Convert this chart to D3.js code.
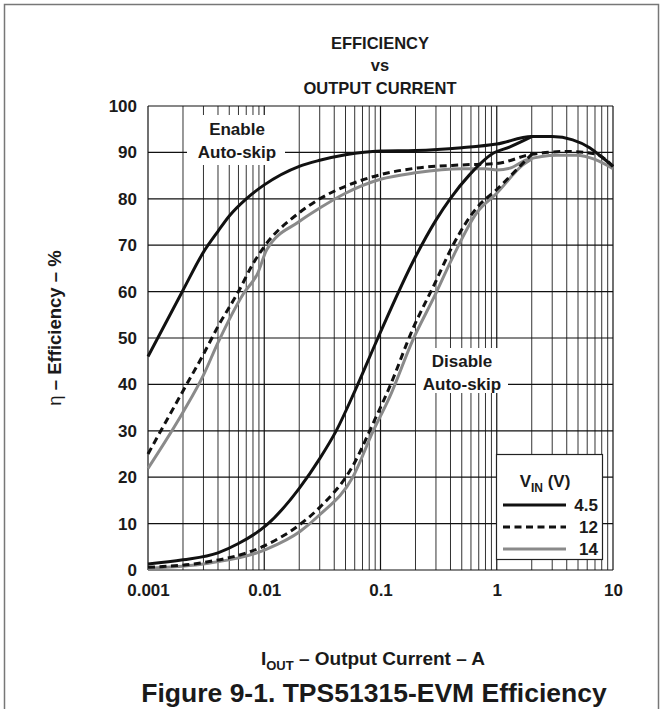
<!DOCTYPE html>
<html>
<head>
<meta charset="utf-8">
<script src="https://cdn.jsdelivr.net/npm/d3@7"></script>
<style>
  html, body { margin: 0; padding: 0; background: #fff; }
  svg { display: block; }
  text { font-family: "Liberation Sans", Arial, Helvetica, sans-serif; font-weight: bold; fill: #1a1a1a; }
</style>
</head>
<body>
<svg id="chart" width="663" height="709"></svg>
<script>
// ---- Data (I_OUT in A, efficiency in %) ----
const currentTicks = [0.001, 0.01, 0.1, 1, 10];
const currentTickLabels = ["0.001", "0.01", "0.1", "1", "10"];
const effTicks = [0, 10, 20, 30, 40, 50, 60, 70, 80, 90, 100];
const seriesNames = ["4.5", "12", "14"];

const enable45 = [[0.001,46],[0.002,60.3],[0.003,68.5],[0.004,73],[0.005,76.3],[0.007,80],[0.01,83],[0.02,87],[0.03,88.3],[0.05,89.5],[0.1,90.3],[0.2,90.4],[0.5,91],[1,91.8],[2,93.4],[3,93.4],[4.5,92.7],[6.3,91],[8,89],[10,87]];
const enable12 = [[0.001,25],[0.002,38.6],[0.003,46.5],[0.004,52.5],[0.006,60],[0.008,66],[0.01,69.7],[0.02,77],[0.03,80],[0.05,82.7],[0.1,85.2],[0.2,86.6],[0.5,87.3],[1,87.6],[2,89.6],[4,90.2],[7,89.7],[10,87]];
const enable14 = [[0.001,21.9],[0.002,34],[0.003,42],[0.004,49],[0.0066,59.5],[0.0088,64],[0.0105,69],[0.02,75.1],[0.03,78],[0.05,81.2],[0.1,84.2],[0.2,85.6],[0.5,86.5],[0.8,86.5],[1,86.2],[1.3,86.6],[1.8,88.4],[3.3,89.4],[4.8,89.4],[7,88.5],[10,86.5]];
const disable45 = [[0.001,1.3],[0.002,2.2],[0.004,3.7],[0.006,5.7],[0.0105,9.7],[0.02,17.6],[0.03,24],[0.042,30.2],[0.06,38.5],[0.095,50],[0.2,67.5],[0.3,75.4],[0.4,80.1],[0.58,85.1],[0.93,89.8],[1.3,91.2],[2,93.4]];
const disable12 = [[0.001,0.6],[0.003,1.6],[0.01,5.2],[0.02,9.7],[0.03,13.5],[0.058,22.5],[0.086,31.5],[0.12,39.5],[0.19,52],[0.29,61.5],[0.42,70],[0.67,78],[1,82],[1.7,87.8],[2,89.6]];
const disable14 = [[0.001,0.4],[0.0032,1.4],[0.0105,4.5],[0.0203,8.3],[0.03,11.9],[0.058,20.1],[0.086,29.8],[0.12,37.3],[0.19,49.6],[0.29,58.9],[0.42,67.5],[0.67,76.9],[1,81.2],[1.68,87.3],[2,88.6]];

// ---- Layout ----
const svg = d3.select("#chart");
const L = 148, R = 613, T = 106, B = 570;
const x = d3.scaleLog().domain([0.001, 10]).range([L, R]);
const y = d3.scaleLinear().domain([0, 100]).range([B, T]);

// outer frame
svg.append("rect").attr("x", 4.5).attr("y", 4.5).attr("width", 654).attr("height", 720)
  .attr("fill", "none").attr("stroke", "#777").attr("stroke-width", 1.5);

// titles
const title = svg.append("g").attr("text-anchor", "middle").style("font-size", "16.5px");
title.append("text").attr("x", 380).attr("y", 49).text("EFFICIENCY");
title.append("text").attr("x", 380).attr("y", 71).text("vs");
title.append("text").attr("x", 380).attr("y", 94).text("OUTPUT CURRENT");

// grid
const grid = svg.append("g");
const minor = [];
for (let e = -3; e < 1; e++) for (let k = 2; k <= 9; k++) minor.push(k * Math.pow(10, e));
grid.selectAll("line.minor").data(minor).enter().append("line")
  .attr("x1", d => x(d)).attr("x2", d => x(d)).attr("y1", T).attr("y2", B)
  .attr("stroke", "#333").attr("stroke-width", 1);
grid.selectAll("line.major").data(currentTicks).enter().append("line")
  .attr("x1", d => x(d)).attr("x2", d => x(d)).attr("y1", T).attr("y2", B)
  .attr("stroke", "#111").attr("stroke-width", 1.2);
grid.selectAll("line.h").data(effTicks).enter().append("line")
  .attr("x1", L).attr("x2", R).attr("y1", d => y(d)).attr("y2", d => y(d))
  .attr("stroke", "#111").attr("stroke-width", 1.2);

// axes (labels via d3 axis)
const yAxis = d3.axisLeft(y).tickValues(effTicks).tickSize(0).tickPadding(11);
const gy = svg.append("g").attr("transform", `translate(${L},0)`).call(yAxis);
gy.select(".domain").remove();
gy.selectAll("text").style("font-size", "17px").style("font-family", null).attr("fill", "#1a1a1a");

const xAxis = d3.axisBottom(x).tickValues(currentTicks).tickFormat((d, i) => currentTickLabels[i]).tickSize(0).tickPadding(14);
const gx = svg.append("g").attr("transform", `translate(0,${B})`).call(xAxis);
gx.select(".domain").remove();
gx.selectAll("text").style("font-size", "17px").style("font-family", null).attr("fill", "#1a1a1a");

// annotation boxes (white, cut gridlines)
function note(cx, lines, boxX, boxY, boxW, boxH, baseY) {
  svg.append("rect").attr("x", boxX).attr("y", boxY).attr("width", boxW).attr("height", boxH).attr("fill", "#fff");
  lines.forEach((t, i) => {
    svg.append("text").attr("x", cx).attr("y", baseY + i * 22.5).attr("text-anchor", "middle")
      .style("font-size", "17px").text(t);
  });
}
note(237, ["Enable", "Auto-skip"], 187, 115, 98, 50, 135);
note(462, ["Disable", "Auto-skip"], 416, 348, 92, 45, 367);

// curves
const line = d3.line().x(d => x(d[0])).y(d => y(d[1])).curve(d3.curveMonotoneX);
const styles = {
  "14": { stroke: "#8a8a8a", dash: null },
  "12": { stroke: "#111", dash: "7,4.5" },
  "4.5": { stroke: "#111", dash: null }
};
const curves = [
  [enable14, "14"], [disable14, "14"],
  [enable12, "12"], [disable12, "12"],
  [enable45, "4.5"], [disable45, "4.5"]
];
curves.forEach(([data, key]) => {
  svg.append("path").datum(data).attr("d", line)
    .attr("fill", "none").attr("stroke", styles[key].stroke).attr("stroke-width", 3)
    .attr("stroke-dasharray", styles[key].dash).attr("stroke-linejoin", "round");
});

// legend
const lg = svg.append("g");
lg.append("rect").attr("x", 496.5).attr("y", 454.5).attr("width", 106).attr("height", 105)
  .attr("fill", "#fff").attr("stroke", "#222").attr("stroke-width", 1.2);
const lt = lg.append("text").attr("x", 545).attr("y", 487).attr("text-anchor", "middle").style("font-size", "17px");
lt.append("tspan").text("V");
lt.append("tspan").attr("dy", 5).style("font-size", "12px").text("IN");
lt.append("tspan").attr("dy", -5).text(" (V)");
seriesNames.forEach((name, i) => {
  const yy = 505 + i * 22;
  lg.append("line").attr("x1", 503).attr("x2", 566).attr("y1", yy).attr("y2", yy)
    .attr("stroke", styles[name].stroke).attr("stroke-width", 3).attr("stroke-dasharray", styles[name].dash);
  lg.append("text").attr("x", 598).attr("y", yy + 6).attr("text-anchor", "end").style("font-size", "17px").text(name);
});

// y axis title
const yt = svg.append("text").attr("transform", "translate(61,328) rotate(-90)").attr("text-anchor", "middle")
  .style("font-size", "18.5px");
yt.append("tspan").style("font-weight", "normal").text("η");
yt.append("tspan").text(" – Efficiency – %");

// x axis title
const xt = svg.append("text").attr("x", 373).attr("y", 665).attr("text-anchor", "middle").style("font-size", "19px");
xt.append("tspan").text("I");
xt.append("tspan").attr("dy", 5).style("font-size", "13px").text("OUT");
xt.append("tspan").attr("dy", -5).text(" – Output Current – A");

// figure caption
svg.append("text").attr("x", 374).attr("y", 702).attr("text-anchor", "middle")
  .style("font-size", "26.5px").text("Figure 9-1. TPS51315-EVM Efficiency");
</script>
</body>
</html>
